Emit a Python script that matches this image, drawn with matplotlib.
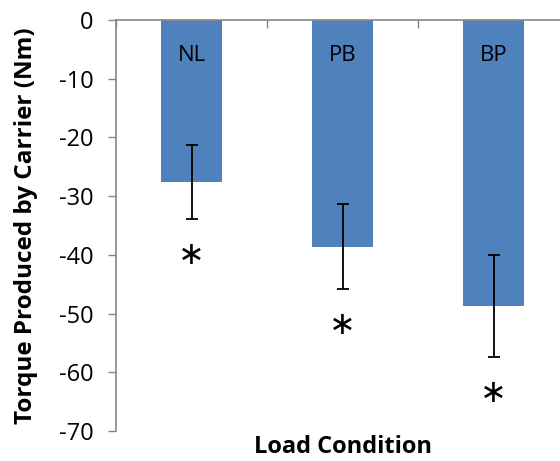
import matplotlib.pyplot as plt
import numpy as np

# data
conditions = ["NL", "PB", "BP"]
torque_mean = [-27.6, -38.6, -48.7]
torque_sd = [6.3, 7.3, 8.7]
significant = [True, True, True]

plt.rcParams['font.family'] = ['Open Sans', 'DejaVu Sans']
plt.rcParams['axes.unicode_minus'] = False

fig = plt.figure(figsize=(5.6, 4.61), dpi=100)
ax = fig.add_axes([116 / 560, 1 - 431 / 461, 453 / 560, 411 / 461])

x = np.arange(len(conditions))
ax.bar(x, torque_mean, width=0.4, color="#4F81BD", zorder=2)
ax.errorbar(x, torque_mean, yerr=torque_sd, fmt="none", ecolor="black",
            elinewidth=1.3, capsize=4.5, capthick=1.3, zorder=3)

for xi, name, m, s, sig in zip(x, conditions, torque_mean, torque_sd, significant):
    ax.text(xi, -6, name, ha="center", va="center", fontsize=16)
    if sig:
        ax.text(xi, m - s - 6.2, "\u2217", ha="center", va="center",
                fontsize=23, family="DejaVu Sans")

ax.set_xlim(-0.5, 2.5)
ax.set_ylim(-70, 0)
ax.set_yticks(np.arange(-70, 1, 10))
ax.tick_params(axis="y", labelsize=17, length=6, width=1, color="#868686",
               direction="out", pad=10)

# category axis sits along y = 0 at the top
ax.xaxis.set_ticks_position("top")
ax.set_xticks([-0.5, 0.5, 1.5, 2.5])
ax.set_xticklabels([])
ax.tick_params(axis="x", length=6, width=1, color="#868686", direction="in")

for side in ["bottom", "right"]:
    ax.spines[side].set_visible(False)
for side in ["top", "left"]:
    ax.spines[side].set_color("#868686")
    ax.spines[side].set_linewidth(1.2)

ax.set_ylabel("Torque Produced by Carrier (Nm)", fontsize=17.5, fontweight="bold",
              labelpad=15)
ax.set_xlabel("Load Condition", fontsize=17, fontweight="bold", labelpad=3)
ax.xaxis.set_label_position("bottom")

fig.savefig("out.png", dpi=100)
